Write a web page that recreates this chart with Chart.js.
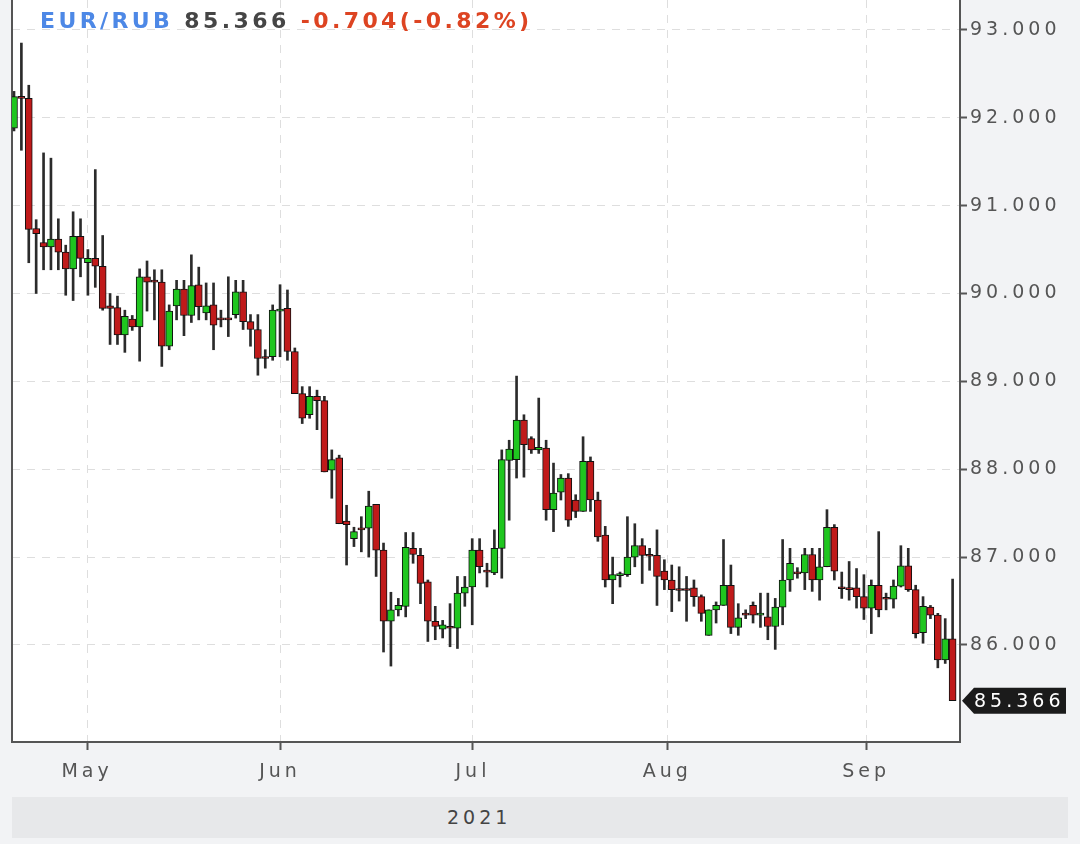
<!DOCTYPE html>
<html><head><meta charset="utf-8">
<script src="https://cdn.jsdelivr.net/npm/chart.js@4.4.1/dist/chart.umd.min.js"></script>
<style>
html,body{margin:0;padding:0;background:#f2f3f5;width:1080px;height:844px;overflow:hidden;}
#wrap{position:relative;width:1080px;height:844px;}
#band{position:absolute;left:12px;top:797px;width:1056px;height:41px;background:#e7e8ea;}
#yr{position:absolute;left:447px;top:806px;font:19px 'DejaVu Sans',sans-serif;letter-spacing:4px;color:#444;line-height:22px;}
canvas{position:absolute;left:0;top:0;}
#hdr{position:absolute;left:40px;top:10px;font:bold 22px 'DejaVu Sans',sans-serif;line-height:22px;letter-spacing:3.4px;white-space:nowrap;}
#hdr .s{color:#4d88e6}#hdr .p{color:#454545}#hdr .c{color:#dd4422}
</style></head>
<body><div id="wrap">
<div id="band"></div><div id="yr">2021</div>
<canvas id="c" width="1080" height="844"></canvas>
<div id="hdr"><span class="s">EUR/RUB</span> <span class="p">85.366</span> <span class="c">-0.704(-0.82%)</span></div>
</div>
<script>
const openP  = [91.88,92.24,92.22,90.74,90.58,90.53,90.62,90.47,90.28,90.65,90.35,90.40,90.31,89.86,89.84,89.53,89.71,89.62,90.19,90.14,
90.13,89.40,89.86,90.05,89.75,90.10,89.78,89.87,89.71,89.72,89.76,90.02,89.68,89.59,89.27,89.28,89.80,89.83,89.34,88.86,
88.62,88.83,88.78,87.99,88.13,87.41,87.21,87.32,87.33,87.60,87.08,86.27,86.40,86.44,87.10,87.02,86.72,86.27,86.18,86.19,
86.19,86.59,86.66,87.08,86.84,86.82,87.10,88.10,88.11,88.56,88.35,88.22,88.24,87.54,87.74,87.90,87.65,87.52,88.09,87.65,
87.25,86.74,86.79,86.80,87.00,87.13,87.02,87.02,86.84,86.74,86.63,86.63,86.65,86.55,86.11,86.40,86.45,86.68,86.20,86.34,
86.45,86.34,86.32,86.21,86.43,86.74,86.82,86.82,87.03,86.74,86.89,87.34,86.65,86.64,86.65,86.55,86.42,86.68,86.52,86.52,
86.67,86.90,86.63,86.14,86.43,86.34,85.83,86.07];
const highP  = [92.30,92.85,92.37,90.84,91.60,91.54,90.85,90.55,90.93,90.85,90.50,91.41,90.66,90.00,89.97,89.81,89.75,90.28,90.37,90.27,
90.27,89.87,90.15,90.15,90.44,90.30,90.12,90.12,89.81,90.19,90.15,90.15,89.76,89.76,89.36,89.87,90.10,90.04,89.38,88.94,
88.94,88.90,88.83,88.22,88.16,87.59,87.34,87.46,87.75,87.60,87.16,86.60,86.53,87.28,87.28,87.10,86.74,86.44,86.28,86.47,
86.78,86.78,87.21,87.21,86.93,87.31,88.22,88.33,89.06,88.62,88.37,88.81,88.33,88.07,87.94,87.95,87.71,88.37,88.14,87.74,
87.35,87.00,86.83,87.46,87.38,87.21,87.10,87.31,86.97,86.91,86.89,86.78,86.74,86.57,86.40,86.49,87.20,86.91,86.47,86.40,
86.49,86.59,86.59,86.53,87.20,87.10,86.88,87.10,87.10,87.10,87.54,87.37,86.83,86.95,86.87,86.80,86.74,87.29,86.59,86.74,
87.13,87.10,86.68,86.55,86.45,86.36,86.30,86.75];
const lowP   = [91.85,91.63,90.35,90.00,90.27,90.27,90.27,89.98,89.92,90.19,89.98,90.07,89.81,89.42,89.42,89.33,89.58,89.23,89.80,89.70,
89.17,89.36,89.70,89.52,89.67,89.70,89.70,89.36,89.62,89.51,89.72,89.59,89.40,89.07,89.15,89.24,89.28,89.24,88.86,88.52,
88.58,88.45,87.97,87.67,87.38,86.91,87.12,87.06,87.00,86.78,85.92,85.76,86.33,86.32,86.93,86.47,86.04,86.06,86.08,85.98,
85.96,86.44,86.23,86.82,86.66,86.80,86.76,87.42,87.90,87.91,88.18,88.18,87.42,87.29,87.65,87.35,87.45,87.52,87.52,87.18,
86.66,86.47,86.66,86.78,86.89,86.70,86.85,86.45,86.63,86.38,86.50,86.27,86.44,86.27,86.11,86.25,86.45,86.13,86.11,86.30,
86.25,86.20,86.06,85.95,86.23,86.61,86.76,86.63,86.61,86.51,86.89,86.74,86.53,86.51,86.42,86.29,86.13,86.32,86.40,86.42,
86.66,86.61,86.08,86.02,86.30,85.74,85.79,85.366];
const closeP = [92.24,92.22,90.73,90.68,90.53,90.62,90.47,90.28,90.65,90.40,90.40,90.31,89.83,89.83,89.53,89.74,89.62,90.19,90.13,90.13,
89.40,89.80,90.05,89.75,90.09,89.85,89.86,89.64,89.70,89.70,90.02,89.68,89.59,89.26,89.26,89.81,89.82,89.34,88.86,88.58,
88.83,88.78,87.97,88.11,87.38,87.37,87.29,87.31,87.58,87.08,86.27,86.40,86.45,87.11,87.03,86.70,86.27,86.21,86.23,86.19,
86.59,86.66,87.08,86.89,86.83,87.10,88.11,88.23,88.56,88.28,88.22,88.25,87.54,87.73,87.90,87.42,87.52,88.09,87.65,87.23,
86.74,86.80,86.80,87.00,87.13,87.02,87.01,86.78,86.74,86.63,86.62,86.62,86.55,86.36,86.40,86.45,86.68,86.20,86.31,86.34,
86.34,86.35,86.21,86.43,86.74,86.93,86.81,87.03,86.74,86.89,87.34,86.84,86.64,86.63,86.55,86.42,86.68,86.40,86.52,86.67,
86.90,86.63,86.13,86.44,86.34,85.83,86.07,85.366];
const monthLabels = ['May','Jun','Jul','Aug','Sep'];
const monthPos = [9.88, 36.0, 62.1, 88.4, 115.3];
const yTicks = [86,87,88,89,90,91,92,93];

const UP = '#1fc61f', DOWN = '#c01a1a';
const idx = openP.map((_, i) => i);
const bodies = idx.map(i => ({x: i, y: [openP[i], closeP[i]]}));
const wicks = idx.map(i => ({x: i, y: [lowP[i], highP[i]]}));
const bodyColors = idx.map(i => closeP[i] > openP[i] ? UP : DOWN);

const canvas = document.getElementById('c');
const SPACING = '4px';

const spacingPlugin = {
  id: 'spacing',
  beforeLayout(chart) { chart.ctx.letterSpacing = SPACING; },
  beforeDraw(chart) {
    const {ctx, chartArea: a} = chart;
    ctx.letterSpacing = SPACING;
    ctx.save();
    ctx.fillStyle = '#ffffff';
    ctx.fillRect(a.left, a.top, a.right - a.left, a.bottom - a.top);
    ctx.restore();
  },
  afterDraw(chart) {
    const {ctx} = chart;
    const ys = chart.scales.y;
    const last = closeP[closeP.length - 1];
    const y = ys.getPixelForValue(last);
    const x0 = chart.chartArea.right + 2;
    ctx.save();
    ctx.fillStyle = '#1b1b1b';
    ctx.beginPath();
    ctx.moveTo(x0, y);
    ctx.lineTo(x0 + 12, y - 13);
    ctx.lineTo(1066, y - 13);
    ctx.lineTo(1066, y + 13);
    ctx.lineTo(x0 + 12, y + 13);
    ctx.closePath();
    ctx.fill();
    ctx.fillStyle = '#ffffff';
    ctx.font = '19px "DejaVu Sans"';
    ctx.textBaseline = 'middle';
    ctx.textAlign = 'left';
    ctx.fillText(last.toFixed(3), 974, y + 1);
    ctx.restore();
  }
};

new Chart(canvas, {
  type: 'bar',
  data: {
    datasets: [
      {data: bodies, backgroundColor: bodyColors, borderColor: '#111', borderWidth: 1, borderSkipped: false,
       barThickness: 7, minBarLength: 2, grouped: false, order: 1},
      {data: wicks, backgroundColor: '#2b2b2b', borderWidth: 0, barThickness: 2, grouped: false, order: 2}
    ]
  },
  options: {
    responsive: false, animation: false,
    layout: {padding: {top: 0, left: 0, right: 0, bottom: 47}},
    plugins: {legend: {display: false}, tooltip: {enabled: false}},
    scales: {
      x: {
        type: 'linear', min: -0.27, max: 128.0, offset: false, bounds: 'data',
        afterBuildTicks: s => { s.ticks = monthPos.map(v => ({value: v})); },
        afterFit: s => { s.height = 55; s.paddingLeft = 0; s.paddingRight = 0; },
        grid: {color: '#dedede', offset: false, tickLength: 8, tickColor: '#555', tickWidth: 2},
        border: {color: '#555', width: 2, dash: [8, 7]},
        ticks: {autoSkip: false, maxRotation: 0, color: '#555', padding: 11,
          font: {family: 'DejaVu Sans', size: 19},
          callback: (v, i) => monthLabels[i]}
      },
      y: {
        position: 'right', min: 84.896, max: 93.34, beginAtZero: false, bounds: 'data',
        afterBuildTicks: s => { s.ticks = yTicks.map(v => ({value: v})); },
        afterFit: s => { s.width = 120; s.paddingTop = 0; s.paddingBottom = 0; },
        grid: {color: '#dedede', tickLength: 7, tickColor: '#555', tickWidth: 2},
        border: {color: '#555', width: 2, dash: [8, 7]},
        ticks: {color: '#555', padding: 3, crossAlign: 'near', font: {family: 'DejaVu Sans', size: 19},
          callback: v => Number(v).toFixed(3)}
      },
      yL: {
        position: 'left', min: 84.896, max: 93.34, beginAtZero: false,
        ticks: {display: false}, grid: {display: false, drawTicks: false},
        border: {display: true, color: '#555', width: 2},
        afterFit: s => { s.width = 12; s.paddingTop = 0; s.paddingBottom = 0; }
      }
    }
  },
  plugins: [spacingPlugin]
});
</script>
</body></html>
